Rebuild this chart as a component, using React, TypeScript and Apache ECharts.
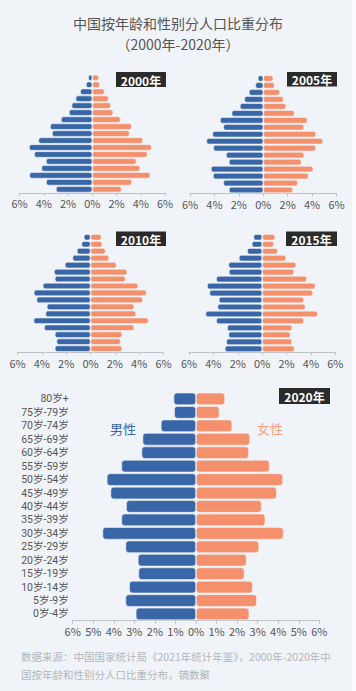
import React, { useEffect, useRef } from "react";
import * as echarts from "echarts";

// Age groups, bottom (youngest) to top (oldest)
const categories = ["0岁-4岁", "5岁-9岁", "10岁-14岁", "15岁-19岁", "20岁-24岁", "25岁-29岁", "30岁-34岁", "35岁-39岁", "40岁-44岁", "45岁-49岁", "50岁-54岁", "55岁-59岁", "60岁-64岁", "65岁-69岁", "70岁-74岁", "75岁-79岁", "80岁+"];

const male2000 = [2.99, 3.81, 5.18, 4.19, 3.81, 4.79, 5.21, 4.44, 3.32, 3.48, 2.58, 1.92, 1.70, 1.37, 0.99, 0.52, 0.33];
const female2000 = [2.41, 3.26, 4.79, 3.95, 3.64, 4.55, 4.90, 4.19, 3.07, 3.26, 2.33, 1.73, 1.53, 1.34, 1.01, 0.63, 0.55];
const male2005 = [2.81, 3.27, 4.11, 4.28, 2.81, 3.05, 4.09, 4.66, 4.17, 3.27, 3.54, 2.59, 1.91, 1.55, 1.17, 0.65, 0.44];
const female2005 = [2.43, 2.83, 3.71, 4.09, 3.13, 3.35, 4.31, 4.90, 4.33, 3.35, 3.62, 2.56, 1.88, 1.66, 1.36, 0.93, 0.82];
const male2010 = [2.93, 2.79, 2.93, 3.81, 4.68, 3.70, 3.59, 4.44, 4.66, 3.92, 2.93, 2.99, 2.11, 1.48, 1.12, 0.74, 0.55];
const female2010 = [2.60, 2.47, 2.60, 3.59, 4.77, 3.75, 3.59, 4.30, 4.60, 3.92, 2.88, 3.01, 2.14, 1.53, 1.23, 0.96, 0.90];
const male2015 = [3.06, 2.95, 2.76, 2.87, 3.77, 4.64, 3.66, 3.55, 4.32, 4.51, 3.77, 2.73, 2.76, 1.91, 1.23, 0.85, 0.71];
const female2015 = [2.65, 2.46, 2.32, 2.46, 3.42, 4.56, 3.55, 3.42, 4.15, 4.37, 3.66, 2.62, 2.79, 1.97, 1.28, 0.96, 1.07];
const male2020 = [2.93, 3.43, 3.25, 2.80, 2.83, 3.43, 4.55, 3.63, 3.40, 4.16, 4.34, 3.63, 2.65, 2.60, 1.71, 1.06, 1.09];
const female2020 = [2.59, 2.96, 2.76, 2.36, 2.46, 3.07, 4.26, 3.37, 3.19, 3.93, 4.23, 3.58, 2.57, 2.63, 1.76, 1.14, 1.41];

const years = ["2000年", "2005年", "2010年", "2015年", "2020年"];
const maleSets = [male2000, male2005, male2010, male2015, male2020];
const femaleSets = [female2000, female2005, female2010, female2015, female2020];

const BG = "#f0f4f8";
const MALE = "#3866a6";
const FEMALE = "#f4906c";
const FONT = "'Noto Sans CJK SC', 'Noto Sans', sans-serif";
const LABEL_FONT = "Roboto, 'Noto Sans CJK SC', sans-serif";

const grids = [
  { left: 19.5, top: 74.3, width: 145.5, height: 118.5 },
  { left: 190, top: 75, width: 146.5, height: 118.5 },
  { left: 17.5, top: 233.8, width: 146, height: 118.3 },
  { left: 189, top: 233.8, width: 146.3, height: 118.5 },
  { left: 72.7, top: 392.2, width: 246.6, height: 228.5 },
];

const boxes = [
  { x: 116, y: 72, w: 50, h: 15 },
  { x: 287, y: 72, w: 50, h: 14.5 },
  { x: 116, y: 231.5, w: 50, h: 14.5 },
  { x: 286, y: 231.5, w: 51, h: 14.5 },
  { x: 279, y: 388, w: 51, h: 16 },
];

export default function App() {
  const ref = useRef<HTMLDivElement>(null);
  useEffect(() => {
    if (!ref.current) return;
    const chart = echarts.init(ref.current, undefined, { renderer: "svg" });
    const xAxis: any[] = [];
    const yAxis: any[] = [];
    const series: any[] = [];
    grids.forEach((g, i) => {
      const big = i === 4;
      xAxis.push({
        type: "value",
        gridIndex: i,
        min: -6,
        max: 6,
        interval: big ? 1 : 2,
        axisLine: { show: true, onZero: false, lineStyle: { color: "#bfc3c8", width: 1 } },
        axisTick: { show: true, length: 3, lineStyle: { color: "#bfc3c8" } },
        splitLine: { show: false },
        axisLabel: {
          color: "#555",
          fontSize: 11,
          fontFamily: FONT,
          margin: 5,
          formatter: (v: number) => Math.abs(v) + "%",
        },
      });
      yAxis.push({
        type: "category",
        gridIndex: i,
        data: categories,
        axisLine: { show: false },
        axisTick: { show: false },
        axisLabel: big
          ? { show: true, interval: 0, color: "#555", fontSize: 10.5, lineHeight: 11, fontFamily: LABEL_FONT, margin: 4 }
          : { show: false },
      });
      const radius = big ? 3 : 2;
      const gap = big ? "8%" : "10%";
      series.push({
        type: "bar",
        xAxisIndex: i,
        yAxisIndex: i,
        name: "男性",
        data: maleSets[i].map((v) => -v),
        barGap: "-100%",
        barCategoryGap: gap,
        itemStyle: { color: MALE, borderRadius: radius, borderColor: BG, borderWidth: 0.6 },
      });
      series.push({
        type: "bar",
        xAxisIndex: i,
        yAxisIndex: i,
        name: "女性",
        data: femaleSets[i],
        barGap: "-100%",
        barCategoryGap: gap,
        itemStyle: { color: FEMALE, borderRadius: radius, borderColor: BG, borderWidth: 0.6 },
      });
    });

    const graphic: any[] = [
      { type: "rect", left: 352, top: 0, shape: { width: 4, height: 691 }, style: { fill: "#fbfcfd" }, silent: true },
      {
        type: "text",
        x: 178,
        y: 23,
        style: { text: "中国按年龄和性别分人口比重分布", fill: "#555", fontSize: 14, fontFamily: FONT, textAlign: "center", textVerticalAlign: "middle" },
      },
      {
        type: "text",
        x: 178,
        y: 43.5,
        style: { text: "（2000年-2020年）", fill: "#555", fontSize: 14, fontFamily: FONT, textAlign: "center", textVerticalAlign: "middle" },
      },
      {
        type: "text",
        x: 123,
        y: 428,
        style: { text: "男性", fill: MALE, fontSize: 13, fontFamily: FONT, textAlign: "center", textVerticalAlign: "middle" },
      },
      {
        type: "text",
        x: 270,
        y: 428,
        style: { text: "女性", fill: "#f3a085", fontSize: 13, fontFamily: FONT, textAlign: "center", textVerticalAlign: "middle" },
      },
      {
        type: "text",
        x: 21,
        y: 656,
        style: { text: "数据来源：中国国家统计局《2021年统计年鉴》，2000年-2020年中", fill: "#b3b6ba", fontSize: 10.5, fontFamily: FONT, textAlign: "left", textVerticalAlign: "middle" },
      },
      {
        type: "text",
        x: 21,
        y: 674,
        style: { text: "国按年龄和性别分人口比重分布，镝数聚", fill: "#b3b6ba", fontSize: 10.5, fontFamily: FONT, textAlign: "left", textVerticalAlign: "middle" },
      },
    ];
    boxes.forEach((b, i) => {
      graphic.push({ type: "rect", shape: { x: b.x, y: b.y, width: b.w, height: b.h }, style: { fill: "#2b2b2b" }, z: 10 });
      graphic.push({
        type: "text",
        x: b.x + b.w / 2,
        y: b.y + b.h / 2 + 0.5,
        z: 11,
        style: { text: years[i], fill: "#ffffff", fontSize: 12, fontWeight: "bold", fontFamily: FONT, textAlign: "center", textVerticalAlign: "middle" },
      });
    });

    chart.setOption({
      animation: false,
      backgroundColor: BG,
      grid: grids.map((g) => ({ ...g, containLabel: false })),
      xAxis,
      yAxis,
      series,
      graphic,
    });
    return () => chart.dispose();
  }, []);
  return <div ref={ref} style={{ position: "fixed", left: 0, top: 0, width: 356, height: 691 }} />;
}
